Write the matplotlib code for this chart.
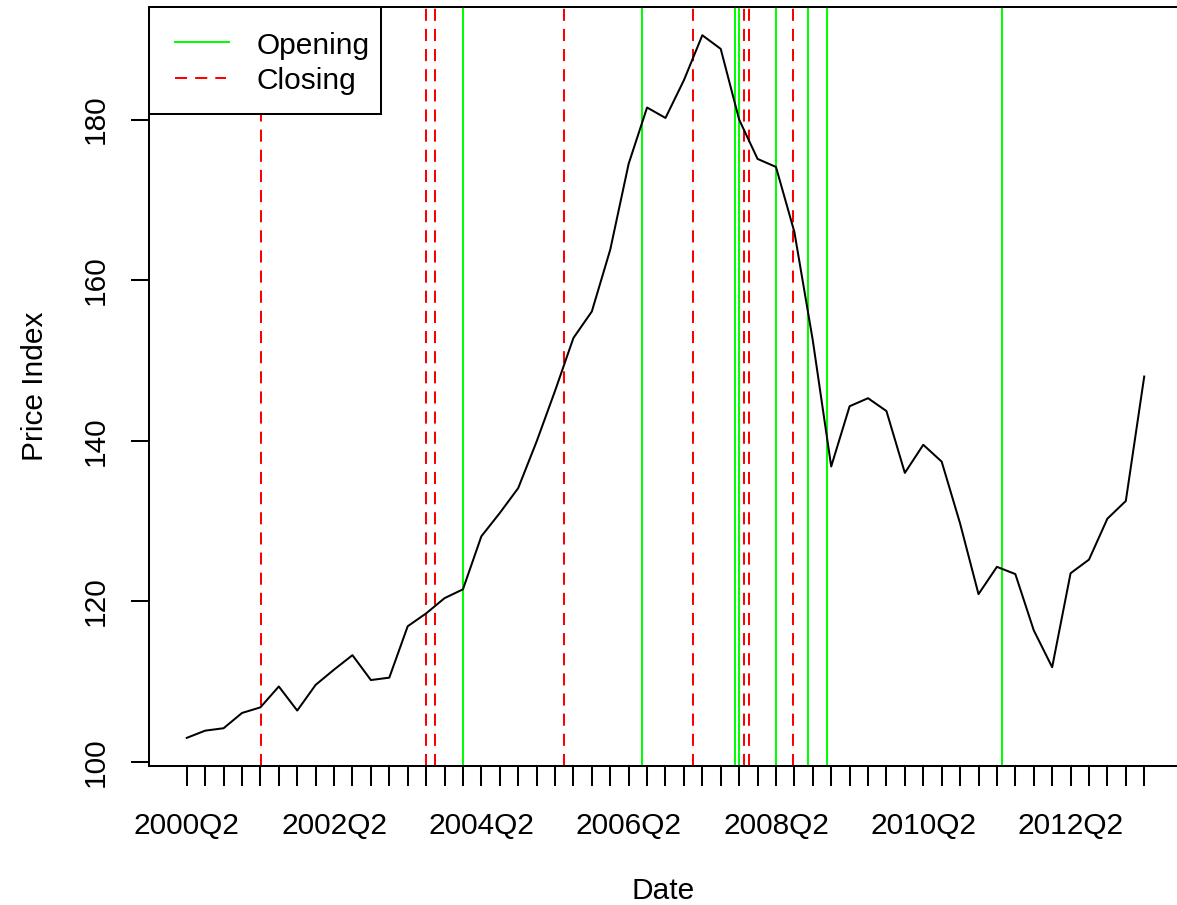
import numpy as np
import matplotlib
matplotlib.use("Agg")
import matplotlib.pyplot as plt
from matplotlib.transforms import Affine2D
from matplotlib.patches import Rectangle
from matplotlib.lines import Line2D

plt.rcParams['font.family'] = ['Liberation Sans', 'DejaVu Sans']

# quarterly price index, 2000Q2 .. 2013Q2
start_year, start_q = 2000, 2
price = [103.0, 103.9, 104.2, 106.1, 106.8, 109.4, 106.4, 109.6, 111.5, 113.3,
         110.2, 110.5, 116.9, 118.5, 120.4, 121.5, 128.1, 131.0, 134.1, 139.9,
         146.2, 152.8, 156.1, 163.8, 174.5, 181.5, 180.2, 184.9, 190.5, 188.8,
         180.0, 175.1, 174.1, 166.0, 152.5, 136.8, 144.3, 145.3, 143.7, 136.0,
         139.5, 137.4, 129.7, 120.9, 124.3, 123.4, 116.4, 111.8, 123.5, 125.2,
         130.3, 132.5, 148.0]

# event times in quarters since 2000Q2
opening = [15.0, 24.74, 29.76, 30.01, 32.0, 33.76, 34.77, 44.26]
closing = [4.02, 13.0, 13.5, 20.5, 27.5, 30.26, 30.52, 32.9]
legend_names = ['Opening', 'Closing']

n = len(price)
labels = []
for i in range(n):
    q = start_q - 1 + i
    labels.append("%dQ%d" % (start_year + q // 4, q % 4 + 1))
x = np.arange(n)

W, H = 1177, 905
fig = plt.figure(figsize=(W / 100, H / 100), dpi=100)
left, right, top, bottom = 149, 1177, 6.5, 765.5
ax = fig.add_axes([left / W, 1 - bottom / H, (right - left) / W, (bottom - top) / H])

lw = 1.45
fs = 21.5
green, red = '#00ff00', '#ff0000'
dash = (0, (6, 4))

ax.plot(x, price, color='black', lw=lw, zorder=3)
for v in opening:
    ax.axvline(v, color=green, lw=lw)
for v in closing:
    ax.axvline(v, color=red, lw=lw, linestyle=dash)

ax.set_xlim(-2.05, 53.78)
ax.set_ylim(99.56, 194.08)

ax.spines['right'].set_visible(False)
for s in ['left', 'top', 'bottom']:
    ax.spines[s].set_linewidth(lw)

ax.set_xticks(x)
ax.set_xticklabels([lb if i % 8 == 0 else '' for i, lb in enumerate(labels)], fontsize=fs)
ax.set_yticks([100, 120, 140, 160, 180])
ax.set_yticklabels(['100', '120', '140', '160', '180'], fontsize=fs, rotation=90, va='center')
ax.tick_params(axis='x', length=14.4, width=lw, pad=19)
ax.tick_params(axis='y', length=13, width=lw, pad=15.5)

ax.set_xlabel('Date', fontsize=fs, labelpad=27)
ax.set_ylabel('Price Index', fontsize=fs, labelpad=23.5)

# R-style legend box, drawn in pixel coordinates (y from top)
px = Affine2D().scale(1, -1).translate(0, H)
fig.add_artist(Rectangle((149, 6.7), 232, 107, transform=px, facecolor='white',
                         edgecolor='black', lw=lw, zorder=10))
fig.add_artist(Line2D([175, 229], [42.3, 42.3], transform=px, color=green, lw=lw, zorder=11))
fig.add_artist(Line2D([175, 226], [78.3, 78.3], transform=px, color=red, lw=lw,
                      linestyle=dash, zorder=11))
fig.text(256.5, 53.5, legend_names[0], transform=px, fontsize=fs, va='baseline', zorder=11)
fig.text(256.5, 89.3, legend_names[1], transform=px, fontsize=fs, va='baseline', zorder=11)

fig.savefig('out.png', dpi=100)
